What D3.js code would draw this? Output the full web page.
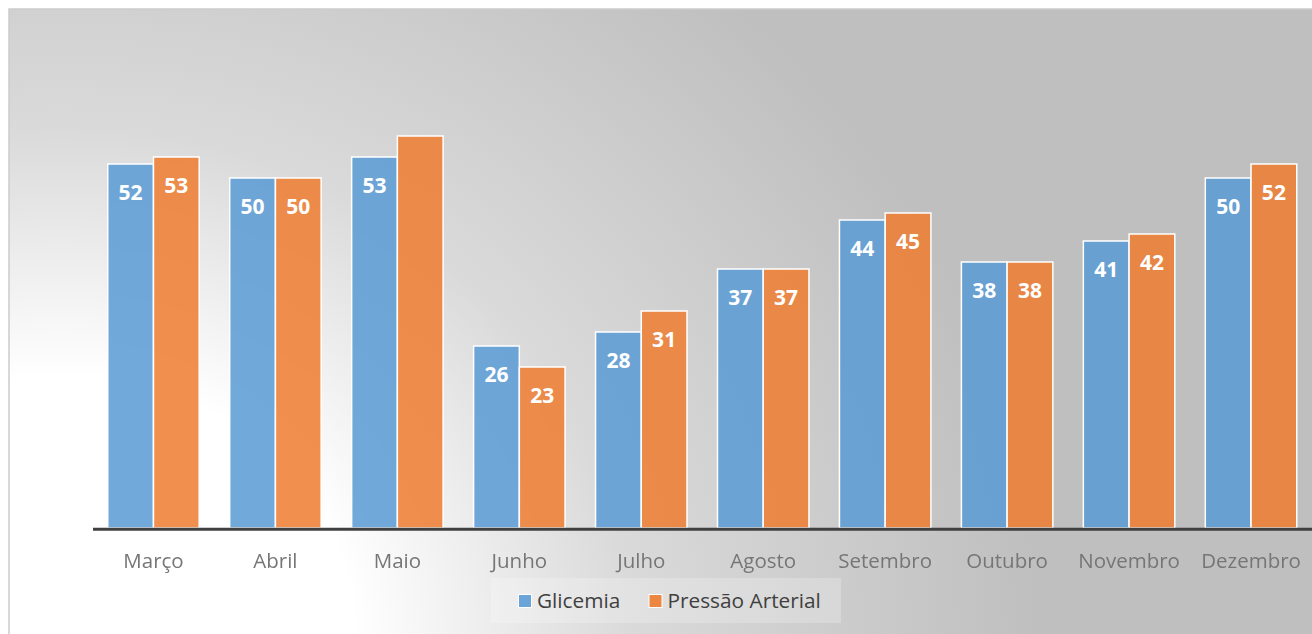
<!DOCTYPE html>
<html>
<head>
<meta charset="utf-8">
<script src="https://cdn.jsdelivr.net/npm/d3@7"></script>
<style>
  html, body { margin: 0; padding: 0; background: #ffffff; overflow: hidden; }
  svg { display: block; }
</style>
</head>
<body>
<svg id="chart" width="1312" height="634"></svg>
<script>
const categories = ["Março", "Abril", "Maio", "Junho", "Julho", "Agosto", "Setembro", "Outubro", "Novembro", "Dezembro"];
const seriesNames = ["Glicemia", "Pressão Arterial"];
const glicemia = [52, 50, 53, 26, 28, 37, 44, 38, 41, 50];
const pressaoArterial = [53, 50, 56, 23, 31, 37, 45, 38, 42, 52];
const hiddenLabels = [["Pressão Arterial", "Maio"]];
const yDomain = [0, 60];

const colors = { "Glicemia": "#5B9BD5", "Pressão Arterial": "#ED7D31" };
const seriesValues = { "Glicemia": glicemia, "Pressão Arterial": pressaoArterial };

const W = 1312, H = 634;
const svg = d3.select("#chart");
const defs = svg.append("defs");

// Background radial gradient (white from bottom-left corner to grey)
const grad = defs.append("radialGradient")
  .attr("id", "bg")
  .attr("gradientUnits", "userSpaceOnUse")
  .attr("cx", 0).attr("cy", 0).attr("r", 1)
  .attr("gradientTransform", "translate(60,640) scale(980,880)");
grad.append("stop").attr("offset", 0).attr("stop-color", "#ffffff");
grad.append("stop").attr("offset", 0.3).attr("stop-color", "#ffffff");
grad.append("stop").attr("offset", 0.58).attr("stop-color", "#dadada");
grad.append("stop").attr("offset", 1).attr("stop-color", "#bfbfbf");

const blur = defs.append("filter").attr("id", "soft").attr("x", "-5%").attr("y", "-20%").attr("width", "110%").attr("height", "140%");
blur.append("feGaussianBlur").attr("stdDeviation", 0.55);

svg.append("rect")
  .attr("x", 9).attr("y", 9).attr("width", W + 20).attr("height", H + 20)
  .attr("fill", "url(#bg)")
  .attr("stroke", "#cccccc").attr("stroke-width", 1.5);

const baseY = 528;
const x0 = d3.scaleBand().domain(categories).range([92.5, 1312]).paddingInner(0.25).paddingOuter(0.125);
const x1 = d3.scaleBand().domain(seriesNames).range([0, x0.bandwidth()]).padding(0);
const y = d3.scaleLinear().domain(yDomain).range([baseY, baseY - 7 * 60]);

const rows = categories.map((c, i) => ({ cat: c, vals: seriesNames.map(s => ({ s, v: seriesValues[s][i], cat: c })) }));

const groups = svg.append("g").selectAll("g").data(rows).join("g")
  .attr("transform", d => `translate(${x0(d.cat)},0)`);

groups.selectAll("rect").data(d => d.vals).join("rect")
  .attr("x", d => x1(d.s))
  .attr("y", d => y(d.v))
  .attr("width", x1.bandwidth())
  .attr("height", d => y(0) - y(d.v))
  .attr("fill", d => colors[d.s])
  .attr("fill-opacity", 0.86)
  .attr("stroke", "#ffffff")
  .attr("stroke-width", 1.5);

const isHidden = d => hiddenLabels.some(h => h[0] === d.s && h[1] === d.cat);

groups.selectAll("text.val").data(d => d.vals.filter(v => !isHidden(v))).join("text")
  .attr("class", "val")
  .attr("x", d => x1(d.s) + x1.bandwidth() / 2)
  .attr("y", d => y(d.v) + 35.5)
  .attr("text-anchor", "middle")
  .attr("font-family", "'Open Sans', sans-serif")
  .attr("font-weight", 700)
  .attr("font-size", 21)
  .attr("fill", "#ffffff")
  .text(d => d.v);

// X axis
const xAxis = d3.axisBottom(x0).tickSize(0).tickPadding(0);
const axG = svg.append("g").attr("transform", `translate(0,${baseY})`).call(xAxis);
axG.select(".domain").remove();
axG.append("line").attr("x1", 93).attr("x2", W).attr("y1", 1.3).attr("y2", 1.3)
  .attr("stroke", "#404040").attr("stroke-width", 3);
axG.selectAll(".tick text")
  .attr("y", 40)
  .attr("dy", 0)
  .attr("font-family", "'Open Sans', sans-serif")
  .attr("font-size", 20.5)
  .attr("fill", "#767676")
  .attr("filter", "url(#soft)");

// Legend
const lg = svg.append("g");
lg.append("rect").attr("x", 491).attr("y", 578).attr("width", 350).attr("height", 45)
  .attr("fill", "#ffffff").attr("fill-opacity", 0.22);
const legendItems = [
  { s: "Glicemia", mx: 518.5, tx: 537 },
  { s: "Pressão Arterial", mx: 649, tx: 667.5 }
];
legendItems.forEach(it => {
  lg.append("rect").attr("x", it.mx).attr("y", 594.5).attr("width", 13).attr("height", 13)
    .attr("fill", colors[it.s]).attr("fill-opacity", 0.9).attr("stroke", "#ffffff").attr("stroke-width", 1);
  lg.append("text").attr("x", it.tx).attr("y", 608)
    .attr("font-family", "'Open Sans', sans-serif").attr("font-size", 20.8)
    .attr("fill", "#404040").text(it.s);
});
</script>
</body>
</html>
